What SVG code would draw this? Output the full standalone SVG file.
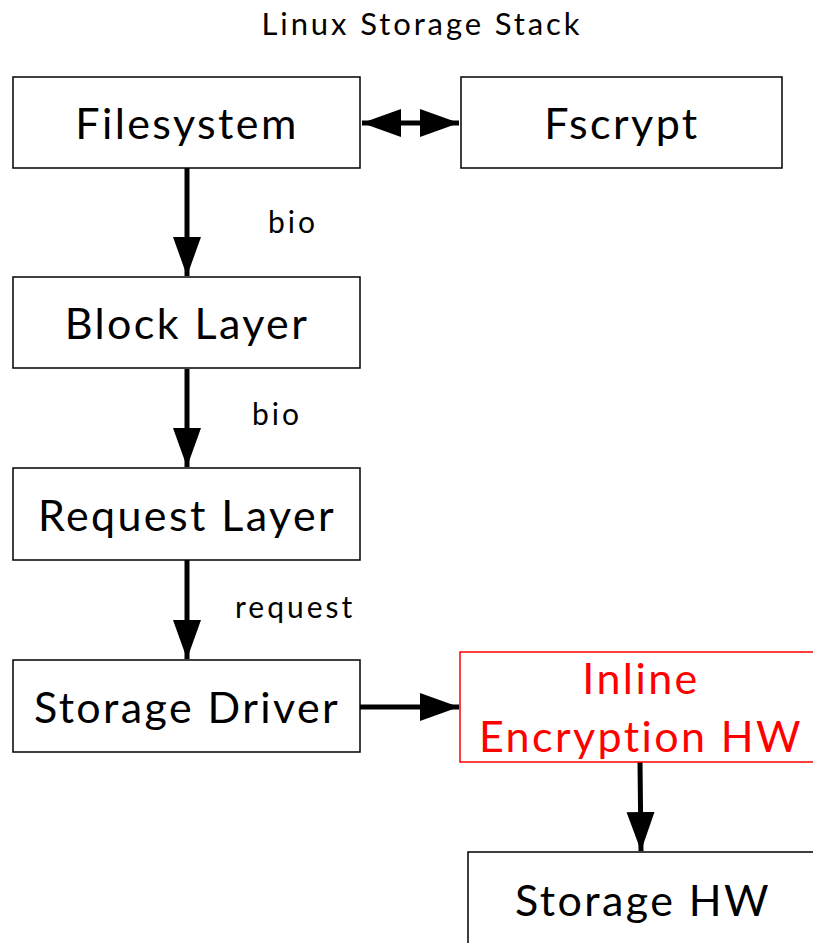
<svg xmlns="http://www.w3.org/2000/svg" width="813" height="943" viewBox="0 0 813 943">
<style>
.box{fill:#fff;stroke:#000;stroke-width:1.5}
.red{fill:#fff;stroke:#f00;stroke-width:1.5}
.t{font-family:Lato,"Open Sans",sans-serif;font-size:43px;letter-spacing:2.4px;text-anchor:middle;fill:#000}
.tr{font-family:Lato,"Open Sans",sans-serif;font-size:43px;letter-spacing:2.4px;text-anchor:middle;fill:#f00}
.lbl{font-family:Lato,"Open Sans",sans-serif;font-size:30px;letter-spacing:3px;fill:#000}
.c{stroke:#000;stroke-width:5;fill:none}
</style>
<defs>
<marker id="ah" markerUnits="userSpaceOnUse" markerWidth="40" markerHeight="30" refX="39" refY="14" orient="auto-start-reverse" viewBox="0 0 40 28">
<path d="M0,0 L39,14 L0,28 z" fill="#000"/>
</marker>
</defs>
<text x="422" y="35" text-anchor="middle" style="font-family:Lato,'Open Sans',sans-serif;font-size:31px;letter-spacing:2.9px;fill:#000">Linux Storage Stack</text>
<g id="connectors">
<line class="c" x1="362" y1="123" x2="459" y2="123" marker-start="url(#ah)" marker-end="url(#ah)"/>
<line class="c" x1="187" y1="168" x2="187" y2="276" marker-end="url(#ah)"/>
<line class="c" x1="187" y1="369" x2="187" y2="467" marker-end="url(#ah)"/>
<line class="c" x1="187" y1="560" x2="187" y2="659" marker-end="url(#ah)"/>
<line class="c" x1="360" y1="707" x2="459" y2="707" marker-end="url(#ah)"/>
<line class="c" x1="640" y1="762" x2="641" y2="851" marker-end="url(#ah)"/>
<text class="lbl" x="268" y="233">bio</text>
<text class="lbl" x="252" y="425">bio</text>
<text class="lbl" x="235" y="618">request</text>
</g>
<g id="filesystem"><rect class="box" x="13" y="77" width="347" height="91"/><text class="t" x="187" y="139">Filesystem</text></g>
<g id="fscrypt"><rect class="box" x="461" y="77" width="321" height="91"/><text class="t" x="622" y="139">Fscrypt</text></g>
<g id="block-layer"><rect class="box" x="13" y="277" width="347" height="91"/><text class="t" x="187" y="339">Block Layer</text></g>
<g id="request-layer"><rect class="box" x="13" y="468" width="347" height="92"/><text class="t" x="187" y="531">Request Layer</text></g>
<g id="storage-driver"><rect class="box" x="13" y="660" width="347" height="92"/><text class="t" x="187" y="723">Storage Driver</text></g>
<g id="inline-encryption-hw"><rect class="red" x="460" y="652" width="360" height="110"/><text class="tr" x="641" y="694">Inline</text><text class="tr" x="641" y="752">Encryption HW</text></g>
<g id="storage-hw"><rect class="box" x="468" y="852" width="360" height="100"/><text class="t" x="643" y="916">Storage HW</text></g>
</svg>
